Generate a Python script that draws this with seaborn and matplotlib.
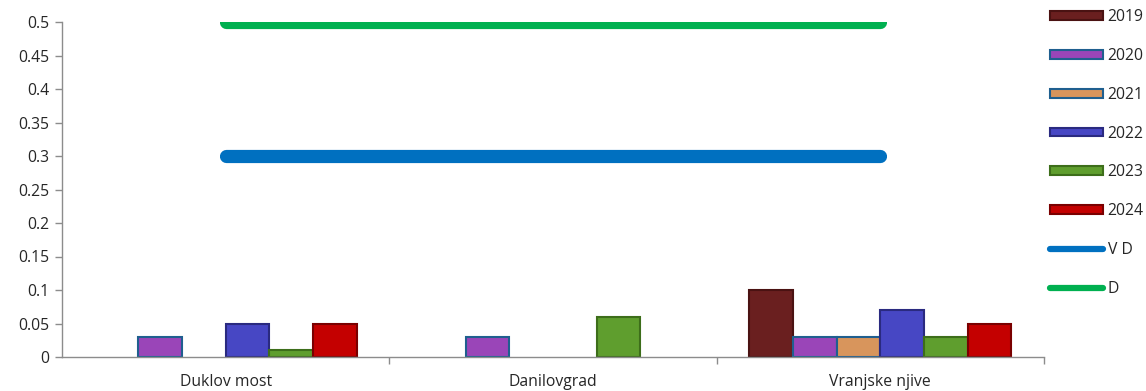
import numpy as np
import pandas as pd
import matplotlib
matplotlib.use("Agg")
import matplotlib.pyplot as plt
from matplotlib.patches import Patch
from matplotlib.lines import Line2D
import seaborn as sns

# Measuring stations and years
stations = ["Duklov most", "Danilovgrad", "Vranjske njive"]
years = ["2019", "2020", "2021", "2022", "2023", "2024"]

# Measured values per year (NaN = no measurement)
v2019 = [np.nan, np.nan, 0.10]
v2020 = [0.03, 0.03, 0.03]
v2021 = [np.nan, np.nan, 0.03]
v2022 = [0.05, np.nan, 0.07]
v2023 = [0.01, 0.06, 0.03]
v2024 = [0.05, np.nan, 0.05]

# Limit values
vd_limit = [0.3, 0.3, 0.3]
d_limit = [0.5, 0.5, 0.5]

yticks = [0, 0.05, 0.1, 0.15, 0.2, 0.25, 0.3, 0.35, 0.4, 0.45, 0.5]

fill_colors = {"2019": "#6a1f1f", "2020": "#9a45b8", "2021": "#d8955c",
               "2022": "#4747c4", "2023": "#5f9e2e", "2024": "#c40000"}
edge_colors = {"2019": "#4a1212", "2020": "#1f5f8f", "2021": "#1f5f8f",
               "2022": "#2a2a80", "2023": "#3d6e1a", "2024": "#7a0000"}
vd_color = "#0070c0"
d_color = "#00b050"

series = [v2019, v2020, v2021, v2022, v2023, v2024]
df = pd.DataFrame({
    "station": [s for _ in years for s in stations],
    "year": [y for y in years for _ in stations],
    "value": [v for vals in series for v in vals],
})

sns.set_style("white")
plt.rcParams["font.family"] = ["Open Sans", "DejaVu Sans"]

fig = plt.figure(figsize=(11.46, 3.91), dpi=100)
ax = fig.add_axes([62 / 1146, 34 / 391, (1044 - 62) / 1146, (357 - 22) / 391])

sns.barplot(data=df, x="station", y="value", hue="year", order=stations,
            hue_order=years, palette=fill_colors, width=0.8, dodge=True,
            legend=False, ax=ax, linewidth=1.5, saturation=1)

for bar_container, yr in zip(ax.containers, years):
    for patch in bar_container:
        patch.set_edgecolor(edge_colors[yr])
        patch.set_linewidth(1.5)

xpos = np.arange(len(stations))
ax.plot(xpos, vd_limit, color=vd_color, lw=9.5, solid_capstyle="round", zorder=5)
ax.plot(xpos, d_limit, color=d_color, lw=9.5, solid_capstyle="round", zorder=5)

ax.set_xlim(-0.5, len(stations) - 0.5)
ax.set_ylim(0, 0.5)
ax.set_yticks(yticks)
ax.set_yticklabels([f"{t:g}" for t in yticks])
ax.set_xlabel("")
ax.set_ylabel("")

for side in ["top", "right"]:
    ax.spines[side].set_visible(False)
for side in ["left", "bottom"]:
    ax.spines[side].set_color("#8c8c8c")
    ax.spines[side].set_linewidth(1)

ax.tick_params(axis="y", which="both", left=True, length=5, width=1,
               color="#8c8c8c", labelsize=11.3, pad=4)
# category boundary ticks on the x axis
ax.set_xticks(xpos)
ax.set_xticklabels(stations)
ax.tick_params(axis="x", which="major", length=0, labelsize=11.3, pad=12)
ax.set_xticks(np.arange(len(stations)) + 0.5, minor=True)
ax.tick_params(axis="x", which="minor", bottom=True, length=5, width=1,
               color="#8c8c8c")

handles = [Patch(facecolor=fill_colors[y], edgecolor=edge_colors[y], linewidth=1.5)
           for y in years]
handles += [Line2D([0], [0], color=vd_color, lw=4.5, solid_capstyle="round"),
            Line2D([0], [0], color=d_color, lw=4.5, solid_capstyle="round")]
labels = years + ["V D", "D"]
fig.legend(handles, labels, loc="upper left", bbox_to_anchor=(1044 / 1146, 1.0 - 3 / 391),
           frameon=False, fontsize=11.3, handlelength=3.35, handleheight=0.5,
           labelspacing=1.45, handletextpad=0.3, borderaxespad=0)

fig.savefig("out.png", dpi=100)
